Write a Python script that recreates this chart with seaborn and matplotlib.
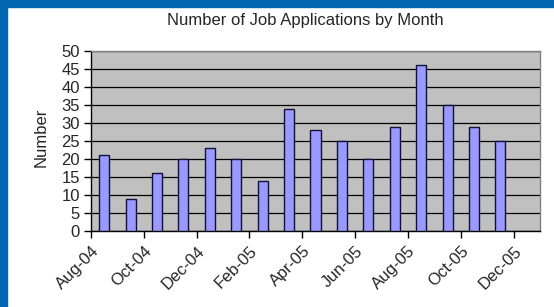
import numpy as np
import pandas as pd
import matplotlib
matplotlib.use("Agg")
import matplotlib.pyplot as plt
import seaborn as sns
from matplotlib.patches import Rectangle

months = ["Aug-04", "Sep-04", "Oct-04", "Nov-04", "Dec-04", "Jan-05",
          "Feb-05", "Mar-05", "Apr-05", "May-05", "Jun-05", "Jul-05",
          "Aug-05", "Sep-05", "Oct-05", "Nov-05", "Dec-05"]
applications = [21, 9, 16, 20, 23, 20, 14, 34, 28, 25, 20, 29, 46, 35, 29, 25]
y_ticks = [0, 5, 10, 15, 20, 25, 30, 35, 40, 45, 50]


def main():
    sns.set_theme(style="white")
    plt.rcParams["font.family"] = ["Liberation Sans", "DejaVu Sans"]

    df = pd.DataFrame({"Month": months[:len(applications)],
                       "Number": applications})

    fig = plt.figure(figsize=(5.54, 3.07), dpi=100)
    fig.patch.set_facecolor("white")
    # blue frame strips (top and left)
    fig.patches.append(Rectangle((0, 1 - 7 / 307), 1, 7 / 307,
                                 transform=fig.transFigure, color="#0066B0", zorder=0))
    fig.patches.append(Rectangle((0, 0), 7 / 554, 1,
                                 transform=fig.transFigure, color="#0066B0", zorder=0))

    ax = fig.add_axes([91 / 554, 76 / 307, 449 / 554, 180 / 307])
    ax.set_facecolor("#C0C0C0")

    sns.barplot(data=df, x="Month", y="Number", order=months, ax=ax,
                color="#9999FF", saturation=1, width=0.38,
                edgecolor="#10103a", linewidth=1, zorder=3)

    ax.set_ylim(0, 50)
    ax.set_yticks(y_ticks)
    ax.set_xlim(-0.5, len(months) - 0.5)
    ax.set_xticks(np.arange(-0.5, len(months), 2))
    ax.set_xticklabels(months[::2], rotation=45, ha="right", va="top",
                       rotation_mode="anchor")
    ax.yaxis.grid(True, color="black", linewidth=0.9, zorder=1)
    ax.set_axisbelow(True)

    ax.tick_params(axis="both", which="major", direction="out", length=5,
                   width=1, color="black", labelsize=12, left=True, bottom=True)
    ax.tick_params(axis="x", pad=4)
    ax.tick_params(axis="y", pad=3)

    for side in ["left", "bottom"]:
        ax.spines[side].set_color("black")
        ax.spines[side].set_linewidth(1)
    for side in ["top", "right"]:
        ax.spines[side].set_color("#808080")
        ax.spines[side].set_linewidth(1)

    ax.set_xlabel("")
    ax.set_ylabel("Number", fontsize=12)
    ax.yaxis.set_label_coords(-0.094, 0.52)
    fig.text(305 / 554, 1 - 21 / 307, "Number of Job Applications by Month",
             ha="center", va="center", fontsize=12)

    fig.savefig("out.png", dpi=100)
    plt.close(fig)


if __name__ == "__main__":
    main()
